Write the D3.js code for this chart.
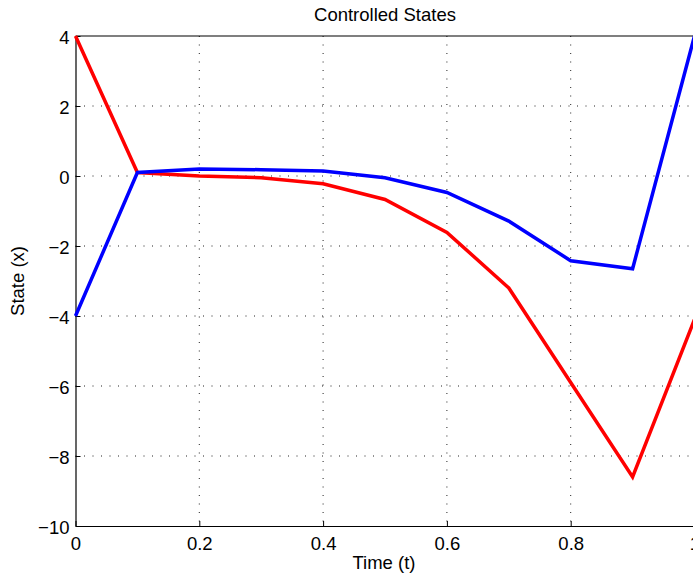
<!DOCTYPE html>
<html>
<head>
<meta charset="utf-8">
<script src="https://cdn.jsdelivr.net/npm/d3@7"></script>
<style>
  body { margin: 0; background: #fff; }
  svg text { font-family: "Liberation Sans", Arial, sans-serif; fill: #000; }
</style>
</head>
<body>
<div class="chart-container"></div>
<script>
//! CONSTS
const WIDTH = 693
const HEIGHT = 575
const MARGIN = { top: 36, left: 75.5, bottom: 49, right: -1.5 };
const FONT = 18.5;

// data
const TIME = [0, 0.1, 0.2, 0.3, 0.4, 0.5, 0.6, 0.7, 0.8, 0.9, 1.0];
const STATE_RED = [4, 0.1, 0.0, -0.05, -0.22, -0.67, -1.61, -3.2, -5.9, -8.6, -4.1];
const STATE_BLUE = [-4, 0.1, 0.2, 0.18, 0.14, -0.05, -0.47, -1.29, -2.42, -2.65, 4];
const X_TICKS = [0, 0.2, 0.4, 0.6, 0.8, 1];
const Y_TICKS = [4, 2, 0, -2, -4, -6, -8, -10];

const svg = d3.select('.chart-container')
  .append('svg')
  .attr('width', WIDTH)
  .attr('height', HEIGHT);

const x = d3.scaleLinear()
  .domain([0, 1])
  .range([MARGIN.left, WIDTH - MARGIN.right]);

const y = d3.scaleLinear()
  .domain([-10, 4])
  .range([HEIGHT - MARGIN.bottom, MARGIN.top]);

// grid (dotted)
svg.append('g')
  .selectAll('line')
  .data(X_TICKS.slice(1, -1))
  .enter()
  .append('line')
  .attr('x1', d => x(d)).attr('x2', d => x(d))
  .attr('y1', y(4)).attr('y2', y(-10))
  .attr('stroke', '#222')
  .attr('stroke-width', 1)
  .attr('stroke-dasharray', '1,7.5');

svg.append('g')
  .selectAll('line')
  .data(Y_TICKS.slice(1, -1))
  .enter()
  .append('line')
  .attr('y1', d => y(d)).attr('y2', d => y(d))
  .attr('x1', x(0)).attr('x2', x(1))
  .attr('stroke', '#222')
  .attr('stroke-width', 1)
  .attr('stroke-dasharray', '1,7.5');

// axes
const xAxis = d3.axisBottom(x).tickValues(X_TICKS).tickSizeInner(-5).tickSizeOuter(0)
  .tickFormat(d3.format('~g')).tickPadding(11);
const yAxis = d3.axisLeft(y).tickValues(Y_TICKS).tickSizeInner(-5).tickSizeOuter(0)
  .tickFormat(d => d < 0 ? '\u2212' + Math.abs(d) : d).tickPadding(6);

svg.append('g')
  .attr('transform', `translate(0,${y(-10)})`)
  .call(xAxis)
  .call(g => g.selectAll('text').attr('font-size', FONT));

svg.append('g')
  .attr('transform', `translate(${x(0)},0)`)
  .call(yAxis)
  .call(g => g.selectAll('text').attr('font-size', FONT).attr('dy', '0.4em'));

svg.selectAll('.domain').attr('stroke', '#000').attr('stroke-width', 1.2);

// top and right box lines
svg.append('line')
  .attr('x1', x(0)).attr('x2', x(1))
  .attr('y1', y(4)).attr('y2', y(4))
  .attr('stroke', '#000').attr('stroke-width', 1.2);
svg.append('line')
  .attr('x1', x(1)).attr('x2', x(1))
  .attr('y1', y(4)).attr('y2', y(-10))
  .attr('stroke', '#000').attr('stroke-width', 1.2);

// lines
const line = d3.line()
  .x((d, i) => x(TIME[i]))
  .y(d => y(d));

svg.append('path')
  .datum(STATE_RED)
  .attr('d', line)
  .attr('fill', 'none')
  .attr('stroke', '#ff0000')
  .attr('stroke-width', 3.5);

svg.append('path')
  .datum(STATE_BLUE)
  .attr('d', line)
  .attr('fill', 'none')
  .attr('stroke', '#0000ff')
  .attr('stroke-width', 3.5);

// labels
svg.append('text')
  .attr('x', (x(0) + x(1)) / 2)
  .attr('y', 21)
  .attr('text-anchor', 'middle')
  .attr('font-size', FONT)
  .text('Controlled States');

svg.append('text')
  .attr('x', (x(0) + x(1)) / 2 - 1)
  .attr('y', 569)
  .attr('text-anchor', 'middle')
  .attr('font-size', FONT)
  .text('Time (t)');

svg.append('text')
  .attr('transform', `translate(24,${(y(4) + y(-10)) / 2}) rotate(-90)`)
  .attr('text-anchor', 'middle')
  .attr('font-size', FONT)
  .text('State (x)');
</script>
</body>
</html>
